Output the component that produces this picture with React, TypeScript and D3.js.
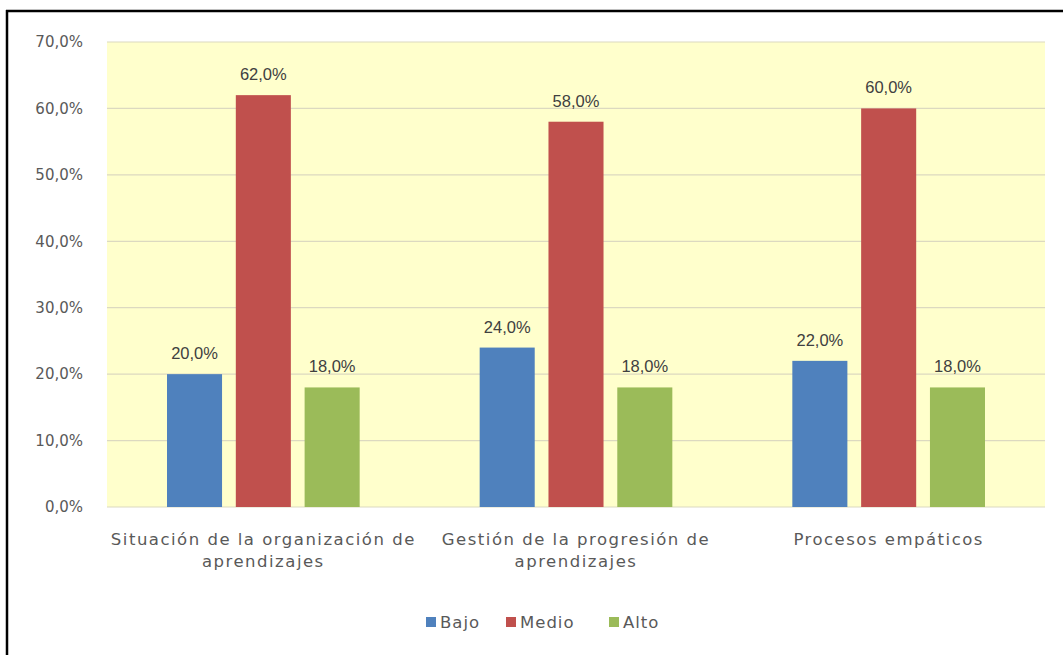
import React, { useRef, useEffect } from 'react';
import * as d3 from 'd3';

const categories = [
  ['Situación de la organización de', 'aprendizajes'],
  ['Gestión de la progresión de', 'aprendizajes'],
  ['Procesos empáticos'],
];
const series = ['Bajo', 'Medio', 'Alto'];
const bajo = [20, 24, 22];
const medio = [62, 58, 60];
const alto = [18, 18, 18];
const colors = ['#4F81BD', '#C0504D', '#9BBB59'];
const yTicks = [0, 10, 20, 30, 40, 50, 60, 70];

const W = 1063;
const H = 655;

const App: React.FC = () => {
  const ref = useRef<SVGSVGElement | null>(null);
  useEffect(() => {
    if (!ref.current) return;
    const svg = d3.select(ref.current);
    svg.selectAll('*').remove();

    const left = 107;
    const right = 1045;
    const top = 42;
    const bottom = 507;
    const values = [bajo, medio, alto];

    svg.append('rect').attr('width', W).attr('height', H).attr('fill', '#fff');

    // frame (top + left lines only, as in the cropped picture)
    svg.append('line').attr('x1', 6).attr('x2', W).attr('y1', 11).attr('y2', 11)
      .attr('stroke', '#000').attr('stroke-width', 2.5);
    svg.append('line').attr('x1', 7).attr('x2', 7).attr('y1', 10).attr('y2', H)
      .attr('stroke', '#000').attr('stroke-width', 2.5);

    const y = d3.scaleLinear().domain([0, 70]).range([bottom, top]);
    const x0 = d3.scaleBand<number>().domain(d3.range(categories.length)).range([left, right]);
    const x1 = d3.scaleBand<number>()
      .domain(d3.range(series.length))
      .range([60, x0.bandwidth() - 60])
      .paddingInner(0.2);

    svg.append('rect')
      .attr('x', left).attr('y', top)
      .attr('width', right - left).attr('height', bottom - top)
      .attr('fill', '#FFFFCC');

    svg.append('g').selectAll('line').data(yTicks).enter().append('line')
      .attr('x1', left).attr('x2', right)
      .attr('y1', (d) => y(d)).attr('y2', (d) => y(d))
      .attr('stroke', '#DCD9C0').attr('stroke-width', 1.2);

    svg.append('g').selectAll('text').data(yTicks).enter().append('text')
      .attr('x', 83).attr('y', (d) => y(d))
      .attr('dy', '0.35em')
      .attr('text-anchor', 'end')
      .attr('fill', '#595959')
      .attr('font-family', 'DejaVu Sans')
      .attr('font-size', 15)
      .text((d) => d3.format('.1f')(d).replace('.', ',') + '%');

    const groups = svg.append('g').selectAll('g').data(categories).enter().append('g')
      .attr('transform', (_, i) => `translate(${x0(i)},0)`);

    groups.each(function (_, ci) {
      const g = d3.select(this);
      series.forEach((_, si) => {
        const v = values[si][ci];
        g.append('rect')
          .attr('x', x1(si)!)
          .attr('y', y(v))
          .attr('width', x1.bandwidth())
          .attr('height', bottom - y(v))
          .attr('fill', colors[si]);
        g.append('text')
          .attr('x', x1(si)! + x1.bandwidth() / 2)
          .attr('y', y(v) - 15)
          .attr('text-anchor', 'middle')
          .attr('fill', '#404040')
          .attr('font-family', 'Liberation Sans')
          .attr('font-size', 16.5)
          .text(v.toFixed(1).replace('.', ',') + '%');
      });
    });

    // category labels
    svg.append('g').selectAll('text').data(categories).enter().append('text')
      .attr('x', (_, i) => x0(i)! + x0.bandwidth() / 2)
      .attr('y', 545)
      .attr('text-anchor', 'middle')
      .attr('fill', '#595959')
      .attr('font-family', 'DejaVu Sans')
      .attr('font-size', 16.5)
      .attr('letter-spacing', 1.5)
      .each(function (lines) {
        const t = d3.select(this);
        lines.forEach((ln, k) => {
          t.append('tspan')
            .attr('x', t.attr('x'))
            .attr('dy', k === 0 ? 0 : 22)
            .text(ln);
        });
      });

    // legend
    const legendX = [426, 506, 609];
    const legend = svg.append('g').selectAll('g').data(series).enter().append('g')
      .attr('transform', (_, i) => `translate(${legendX[i]},617)`);
    legend.append('rect').attr('width', 10).attr('height', 10)
      .attr('fill', (_, i) => colors[i]);
    legend.append('text')
      .attr('x', 14).attr('y', 5).attr('dy', '0.35em')
      .attr('fill', '#595959')
      .attr('font-family', 'DejaVu Sans')
      .attr('font-size', 16.5)
      .attr('letter-spacing', 1)
      .text((d) => d);
  }, []);
  return (
    <svg
      ref={ref}
      width={W}
      height={H}
      style={{ display: 'block', position: 'absolute', left: 0, top: 0 }}
    />
  );
};

export default App;
